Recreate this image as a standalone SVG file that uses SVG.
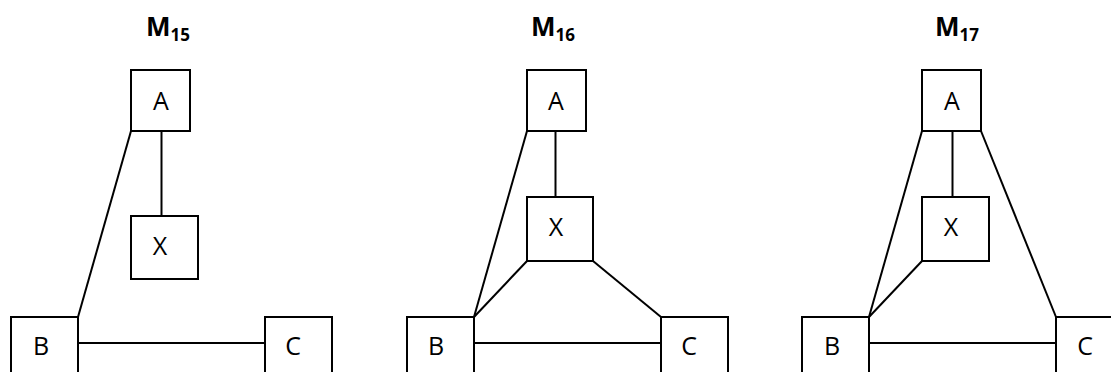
<svg xmlns="http://www.w3.org/2000/svg" width="1111" height="372" viewBox="0 0 1111 372">
<style>
.box{fill:#fff;stroke:#000;stroke-width:2}
.lbl{font-family:"Open Sans","Liberation Sans",sans-serif;font-size:25px;text-anchor:middle;fill:#000}
.ttl{font-family:"Open Sans","Liberation Sans",sans-serif;font-weight:bold;font-size:26px;text-anchor:middle;fill:#000}
.sub{font-size:17px}
#connectors line{stroke:#000;stroke-width:2}
</style>
<rect width="1111" height="372" fill="#fff"/>
<g id="titles">
<text class="ttl" x="168" y="36">M<tspan class="sub" dy="5">15</tspan></text>
<text class="ttl" x="553" y="36">M<tspan class="sub" dy="5">16</tspan></text>
<text class="ttl" x="957" y="36">M<tspan class="sub" dy="5">17</tspan></text>
</g>
<g id="connectors">
<line x1="131" y1="131" x2="78" y2="317"/>
<line x1="161.5" y1="131" x2="161.5" y2="216"/>
<line x1="78" y1="343" x2="265" y2="343"/>
<line x1="527" y1="131" x2="474" y2="317"/>
<line x1="555.5" y1="131" x2="555.5" y2="197"/>
<line x1="527" y1="261" x2="474" y2="317"/>
<line x1="593" y1="261" x2="661" y2="317"/>
<line x1="474" y1="343" x2="661" y2="343"/>
<line x1="922" y1="131" x2="869" y2="317"/>
<line x1="981" y1="131" x2="1056" y2="317"/>
<line x1="952.5" y1="131" x2="952.5" y2="197"/>
<line x1="922" y1="261" x2="869" y2="317"/>
<line x1="869" y1="343" x2="1056" y2="343"/>
</g>
<g id="m15-A"><rect class="box" x="131" y="70" width="59" height="61"/><text class="lbl" x="161" y="110">A</text></g>
<g id="m15-X"><rect class="box" x="131" y="216" width="67" height="63"/><text class="lbl" x="160" y="255">X</text></g>
<g id="m15-B"><rect class="box" x="11" y="317" width="67" height="70"/><text class="lbl" x="41" y="355">B</text></g>
<g id="m15-C"><rect class="box" x="265" y="317" width="67" height="70"/><text class="lbl" x="293" y="355">C</text></g>
<g id="m16-A"><rect class="box" x="527" y="70" width="59" height="61"/><text class="lbl" x="556" y="110">A</text></g>
<g id="m16-X"><rect class="box" x="527" y="197" width="66" height="64"/><text class="lbl" x="556" y="236">X</text></g>
<g id="m16-B"><rect class="box" x="407" y="317" width="67" height="70"/><text class="lbl" x="436" y="355">B</text></g>
<g id="m16-C"><rect class="box" x="661" y="317" width="67" height="70"/><text class="lbl" x="689" y="355">C</text></g>
<g id="m17-A"><rect class="box" x="922" y="70" width="59" height="61"/><text class="lbl" x="952" y="110">A</text></g>
<g id="m17-X"><rect class="box" x="922" y="197" width="67" height="64"/><text class="lbl" x="951" y="236">X</text></g>
<g id="m17-B"><rect class="box" x="802" y="317" width="67" height="70"/><text class="lbl" x="832" y="355">B</text></g>
<g id="m17-C"><rect class="box" x="1056" y="317" width="67" height="70"/><text class="lbl" x="1085" y="355">C</text></g>
</svg>
